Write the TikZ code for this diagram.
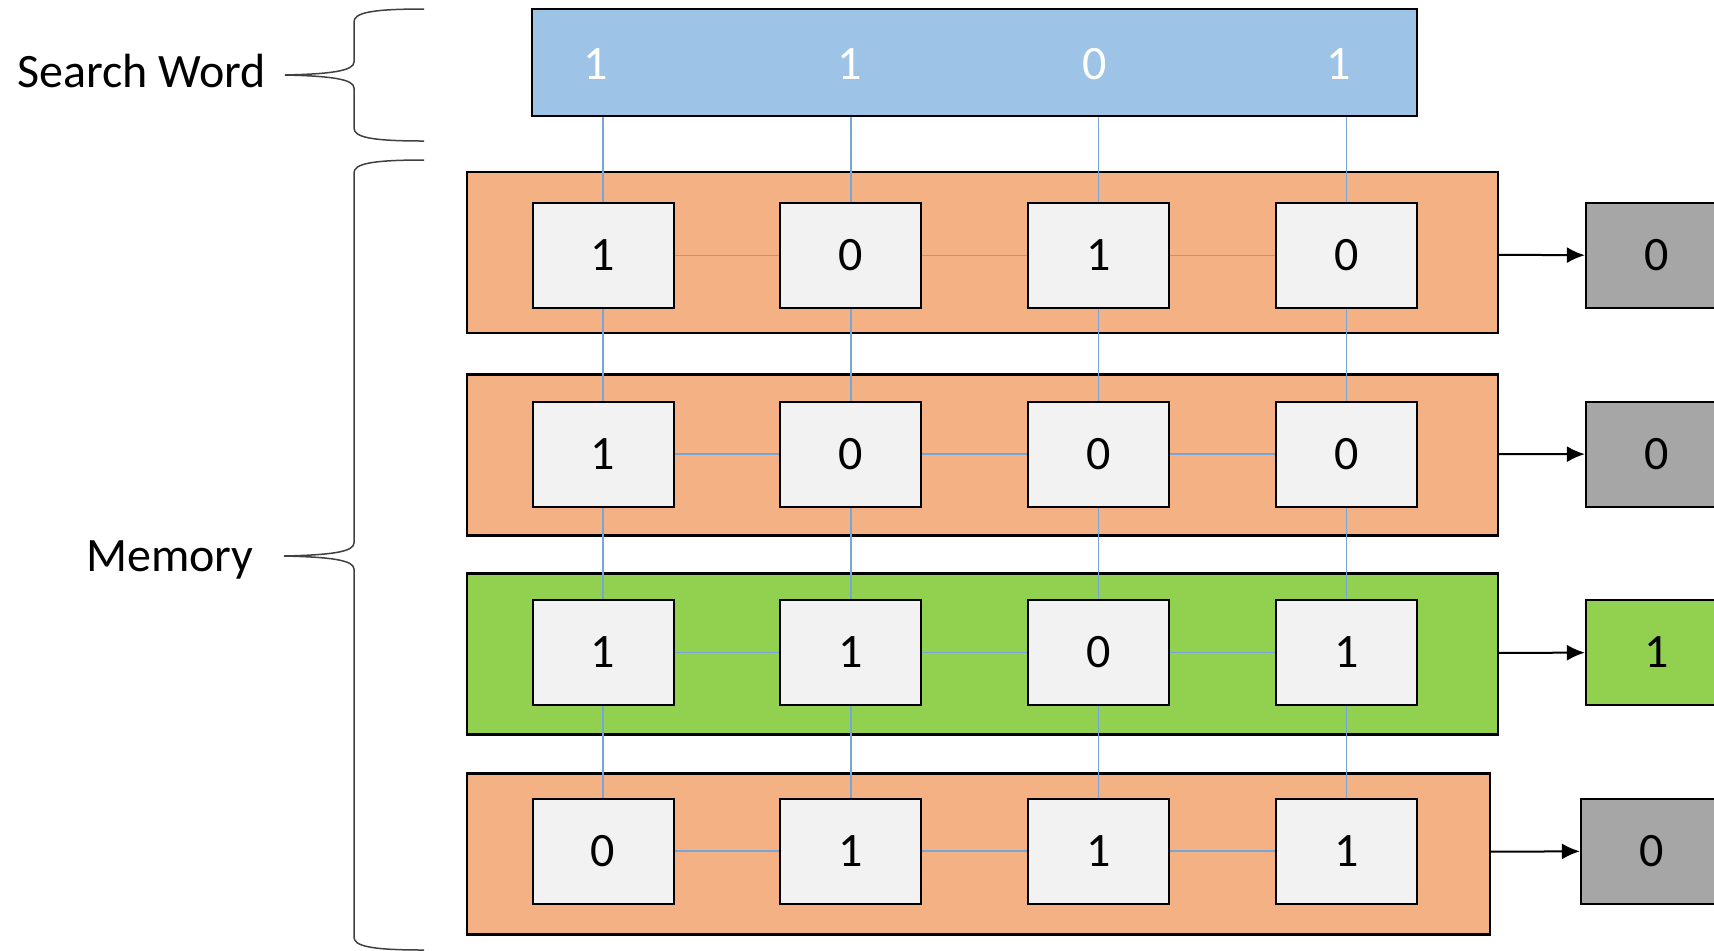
\documentclass[tikz,border=0pt]{standalone}
\usepackage{fontspec}
\setmainfont{Carlito}
\usetikzlibrary{arrows.meta,positioning}
\definecolor{rowor}{HTML}{F4B183}
\definecolor{rowgr}{HTML}{92D050}
\definecolor{swblue}{HTML}{9DC3E6}
\definecolor{cellgr}{HTML}{F2F2F2}
\definecolor{outgr}{HTML}{A6A6A6}
\definecolor{wireblue}{HTML}{74A6DA}
\definecolor{bracegr}{HTML}{404040}

\begin{document}
\begin{tikzpicture}[x=0.5pt, y=-0.5pt, >=Latex,
    node distance=45.75pt and 52.4pt,
    every node/.append style={font=\fontsize{24}{28}\selectfont},
    cellbox/.style={draw, line width=1pt, fill=cellgr, minimum width=70.5pt, minimum height=52.5pt, inner sep=0},
    rowbox/.style={draw, line width=1.2pt, fill=rowor, minimum width=515.5pt, minimum height=80.5pt},
    outbox/.style={draw, line width=1pt, fill=outgr, minimum width=70.5pt, minimum height=52.5pt, inner sep=0},
    wireline/.style={draw=wireblue, line width=0.7pt},
    arrowline/.style={draw, line width=1pt, -{Latex[length=9pt,width=8pt]}},
    bracepath/.style={draw=bracegr, line width=0.75pt}]
    \useasboundingbox (0,0) rectangle (1714,950);
    \clip (0,0) rectangle (1714,950);

    % search word
    \node [draw, line width=1.2pt, fill=swblue, minimum width=442.5pt, minimum height=53.5pt] (SW) at (974.5,62.5) {};
    \node [text=white] (S1) at (596,64) {1};
    \node [text=white] (S2) at (850,64) {1};
    \node [text=white] (S3) at (1095,64) {0};
    \node [text=white] (S4) at (1339,64) {1};

    % memory rows
    \node [rowbox] (R1) at (982.5,252.5) {};
    \node [rowbox] (R2) at (982.5,455) {};
    \node [rowbox, fill=rowgr] (R3) at (982.5,654) {};
    \node [rowbox, minimum width=511.5pt] (R4) at (978.5,854) {};

    \node [cellbox] (C11) at (603,255.5) {1};
    \node [cellbox, right=of C11] (C12) {0};
    \node [cellbox, right=of C12] (C13) {1};
    \node [cellbox, right=of C13] (C14) {0};

    \node [cellbox, below=of C11] (C21) {1};
    \node [cellbox, right=of C21] (C22) {0};
    \node [cellbox, right=of C22] (C23) {0};
    \node [cellbox, right=of C23] (C24) {0};

    \node [cellbox, below=of C21] (C31) {1};
    \node [cellbox, right=of C31] (C32) {1};
    \node [cellbox, right=of C32] (C33) {0};
    \node [cellbox, right=of C33] (C34) {1};

    \node [cellbox, below=of C31] (C41) {0};
    \node [cellbox, right=of C41] (C42) {1};
    \node [cellbox, right=of C42] (C43) {1};
    \node [cellbox, right=of C43] (C44) {1};

    % match outputs
    \node [outbox, right=83.5pt of C14] (O1) {0};
    \node [outbox, right=83.5pt of C24] (O2) {0};
    \node [outbox, fill=rowgr, right=83.5pt of C34] (O3) {1};
    \node [outbox, right=81pt of C44] (O4) {0};

    \path [wireline] (SW.south -| C11.north) -- (C11.north)
    (SW.south -| C12.north) -- (C12.north)
    (SW.south -| C13.north) -- (C13.north)
    (SW.south -| C14.north) -- (C14.north)
    (C11) -- (C12) (C12) -- (C13) (C13) -- (C14)
    (C21) -- (C22) (C22) -- (C23) (C23) -- (C24)
    (C31) -- (C32) (C32) -- (C33) (C33) -- (C34)
    (C41) -- (C42) (C42) -- (C43) (C43) -- (C44)
    (C11) -- (C21) (C21) -- (C31) (C31) -- (C41)
    (C12) -- (C22) (C22) -- (C32) (C32) -- (C42)
    (C13) -- (C23) (C23) -- (C33) (C33) -- (C43)
    (C14) -- (C24) (C24) -- (C34) (C34) -- (C44);

    \path [arrowline] (R1) edge (O1)
    (R2) edge (O2)
    (R3) edge (O3)
    (R4) edge (O4);

    % labels and braces
    \node [anchor=east] (SWL) at (273,71) {Search Word};
    \node (ML) at (170,560) {Memory};

    \path [bracepath] (424,9) .. controls (370,9) and (354,13) .. (354,22) -- (354,62)
      .. controls (354,71) and (330,74) .. (285,75) .. controls (330,76) and (354,79) .. (354,88)
      -- (354,128) .. controls (354,137) and (370,141) .. (424,141);
    \path [bracepath] (424,160) .. controls (370,160) and (354,164) .. (354,173) -- (354,543)
      .. controls (354,552) and (330,555) .. (284,556) .. controls (330,557) and (354,560) .. (354,569)
      -- (354,937) .. controls (354,946) and (370,950) .. (424,950);
\end{tikzpicture}
\end{document}
